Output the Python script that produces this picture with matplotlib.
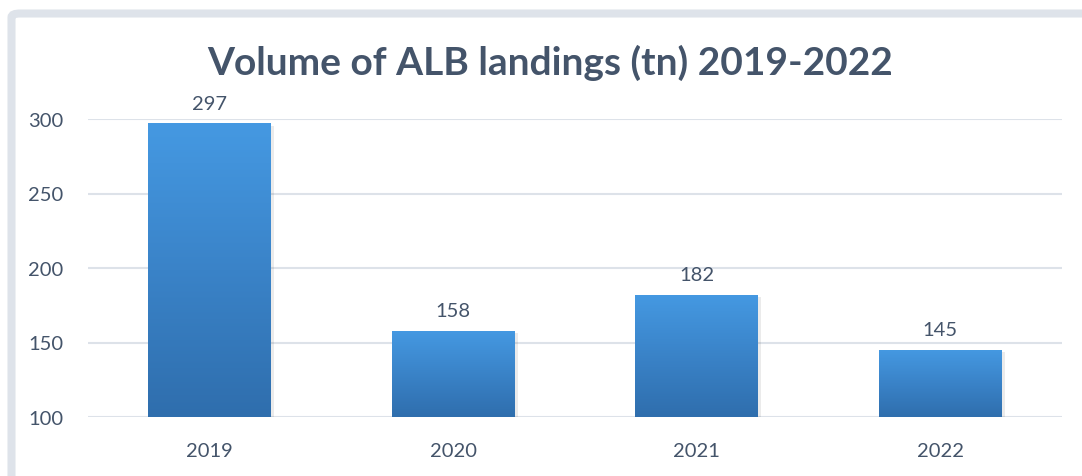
import matplotlib
matplotlib.use("Agg")
import matplotlib.pyplot as plt
import numpy as np
from matplotlib.colors import LinearSegmentedColormap
from matplotlib.patches import FancyBboxPatch

years = ["2019", "2020", "2021", "2022"]
volumes = [297, 158, 182, 145]
yticks = [100, 150, 200, 250, 300]

TEXT = "#44546A"
GRID = "#DDE2E9"
FRAME = "#DEE3EA"
grad = LinearSegmentedColormap.from_list("bar", ["#2F6EAD", "#3A83C8", "#4599E2"])

plt.rcParams["font.family"] = ["Lato", "DejaVu Sans"]

fig = plt.figure(figsize=(10.82, 4.77), dpi=100)
fig.patches.append(FancyBboxPatch((11.5 / 1082, -0.2), 1.2, 1 - 14.5 / 477 + 0.2,
                                  boxstyle="round,pad=0,rounding_size=0.008",
                                  transform=fig.transFigure, facecolor="white",
                                  edgecolor=FRAME, linewidth=5.8, zorder=-5))

ax = fig.add_axes([88 / 1082, 1 - 418 / 477, 974 / 1082, 298 / 477])
ax.set_facecolor("none")
x = np.arange(len(years))

# soft shadow behind bars
ax.bar(x + 0.012, np.array(volumes) - 100, width=0.505, bottom=98.5,
       color="#000000", alpha=0.08, zorder=2)
bars = ax.bar(x, np.array(volumes) - 100, width=0.505, bottom=100,
              color="#3A83C8", zorder=3)
g = np.linspace(0, 1, 256).reshape(-1, 1)
for b in bars:
    x0, w = b.get_x(), b.get_width()
    top = b.get_y() + b.get_height()
    im = ax.imshow(g, cmap=grad, aspect="auto", origin="lower",
                   extent=(x0, x0 + w, 100, top), zorder=4)
    im.set_clip_path(b)
ax.set_xlim(-0.5, len(years) - 0.5)
ax.set_ylim(100, 300)

for xi, v in zip(x, volumes):
    ax.text(xi, v + 8, str(v), ha="center", va="bottom", fontsize=14.5,
            color=TEXT, clip_on=False)

ax.set_yticks(yticks)
ax.set_xticks(x)
ax.set_xticklabels(years)
ax.yaxis.grid(True, color=GRID, linewidth=1.5, zorder=1)
ax.set_axisbelow(True)
for s in ax.spines.values():
    s.set_visible(False)
ax.tick_params(length=0, labelsize=14.5, labelcolor=TEXT)
ax.tick_params(axis="y", pad=18)
ax.tick_params(axis="x", pad=18)

fig.text(550 / 1082, 1 - 63 / 477, "Volume of ALB landings (tn) 2019-2022",
         ha="center", va="center", fontsize=28, fontweight="bold", color=TEXT)

fig.savefig("out.png", dpi=100)
